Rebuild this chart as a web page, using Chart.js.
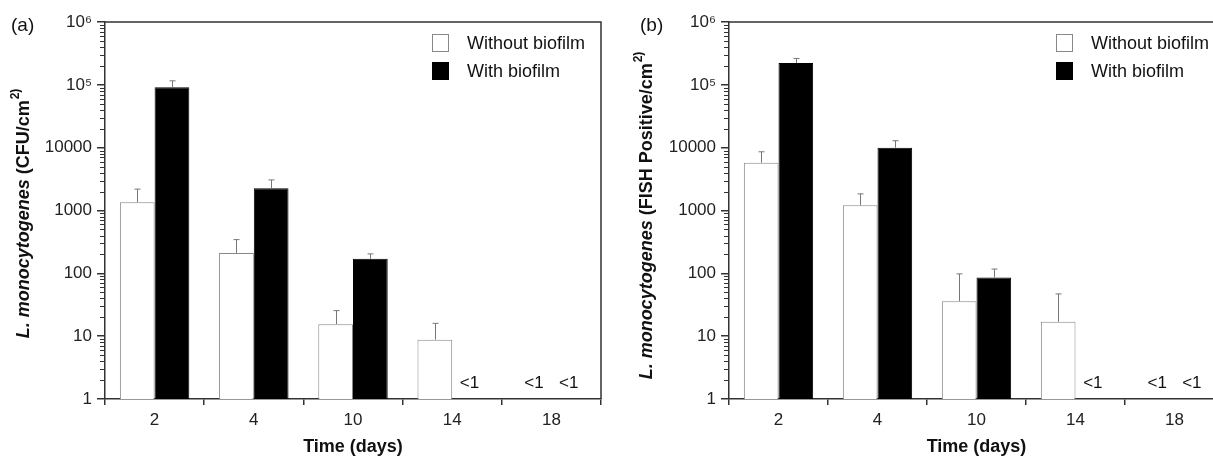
<!DOCTYPE html>
<html>
<head>
<meta charset="utf-8">
<script src="https://cdn.jsdelivr.net/npm/chart.js@4.4.0/dist/chart.umd.min.js"></script>
<style>
html, body { margin: 0; padding: 0; background: #fff; overflow: hidden; }
#wrap { position: relative; width: 1213px; height: 460px; overflow: hidden; }
#chartA { position: absolute; left: 0; top: 0; }
#chartB { position: absolute; left: 624px; top: 0; }
</style>
</head>
<body>
<div id="wrap">
  <canvas id="chartA" width="624" height="460"></canvas>
  <canvas id="chartB" width="606" height="460"></canvas>
</div>
<script>
var days = ['2', '4', '10', '14', '18'];
var yTickValues = [1, 10, 100, 1000, 10000, 100000, 1000000];
var yTickLabels = ['1', '10', '100', '1000', '10000', '10⁵', '10⁶'];
var seriesNames = ['Without biofilm', 'With biofilm'];

// (a) culture counts, CFU/cm2 (mean and + error)
var cfuWithout = [1350, 211, 15.5, 8.8, null];
var cfuWithoutErr = [840, 133, 10, 7.2, null];
var cfuWith = [91900, 2265, 170, null, null];
var cfuWithErr = [23900, 805, 34, null, null];
var cfuWithoutBelow = [false, false, false, false, true];
var cfuWithBelow = [false, false, false, true, true];

// (b) FISH positive cells/cm2
var fishWithout = [5750, 1210, 36, 17, null];
var fishWithoutErr = [2850, 630, 62, 30, null];
var fishWith = [222000, 10000, 86, null, null];
var fishWithErr = [41000, 2900, 31, null, null];
var fishWithoutBelow = [false, false, false, false, true];
var fishWithBelow = [false, false, false, true, true];

Chart.defaults.font.family = "'Liberation Sans', Arial, sans-serif";
Chart.defaults.color = '#222';

var axisColor = '#333';

// frame, minor ticks, error bars, "<1" marks, legend, titles
var decor = {
    id: 'decor',
    afterDatasetsDraw: function(chart, args, opts) {
        var ctx = chart.ctx;
        var area = chart.chartArea;
        var y = chart.scales.y;

        ctx.save();
        // top and right of the frame
        ctx.strokeStyle = axisColor;
        ctx.lineWidth = 1.5;
        ctx.beginPath();
        ctx.moveTo(area.left, area.top);
        ctx.lineTo(area.right, area.top);
        ctx.lineTo(area.right, area.bottom);
        ctx.stroke();

        // minor ticks of the log axis
        ctx.lineWidth = 1;
        ctx.beginPath();
        for (var k = 0; k < 6; k++) {
            for (var m = 2; m <= 9; m++) {
                var py = Math.round(y.getPixelForValue(m * Math.pow(10, k))) + 0.5;
                ctx.moveTo(area.left - 5, py);
                ctx.lineTo(area.left, py);
            }
        }
        ctx.stroke();

        // error bars (upper only)
        ctx.strokeStyle = '#777';
        ctx.lineWidth = 1;
        chart.data.datasets.forEach(function(ds, i) {
            var meta = chart.getDatasetMeta(i);
            ds.data.forEach(function(v, j) {
                if (v === null || ds.errors[j] === null) return;
                var bar = meta.data[j];
                var x = Math.round(bar.x) + 0.5;
                var top = y.getPixelForValue(v + ds.errors[j]);
                ctx.beginPath();
                ctx.moveTo(x, bar.y);
                ctx.lineTo(x, top);
                ctx.moveTo(x - 3, top);
                ctx.lineTo(x + 3, top);
                ctx.stroke();
            });
        });

        // below detection limit
        ctx.fillStyle = '#111';
        ctx.font = "17px 'Liberation Sans', Arial, sans-serif";
        ctx.textAlign = 'center';
        ctx.textBaseline = 'middle';
        chart.data.datasets.forEach(function(ds, i) {
            var meta = chart.getDatasetMeta(i);
            ds.below.forEach(function(b, j) {
                if (!b) return;
                ctx.fillText('<1', meta.data[j].x, area.bottom - 16);
            });
        });

        // legend
        ctx.textAlign = 'left';
        ctx.font = "18px 'Liberation Sans', Arial, sans-serif";
        chart.data.datasets.forEach(function(ds, i) {
            var bx = area.left + 327, by = 34 + i * 28;
            ctx.fillStyle = ds.backgroundColor;
            ctx.fillRect(bx, by, 17, 18);
            ctx.strokeStyle = ds.borderColor;
            ctx.strokeRect(bx + 0.5, by + 0.5, 16, 17);
            ctx.fillStyle = '#111';
            ctx.fillText(ds.label, bx + 35, by + 10);
        });

        // panel letter
        ctx.font = "19px 'Liberation Sans', Arial, sans-serif";
        ctx.fillText(opts.letter, opts.letterX, 26);

        // y axis title, italic species name
        ctx.translate(opts.titleX, opts.titleY);
        ctx.rotate(-Math.PI / 2);
        var f1 = "italic bold 18px 'Liberation Sans', Arial, sans-serif";
        var f2 = "bold 18px 'Liberation Sans', Arial, sans-serif";
        var f3 = "bold 12px 'Liberation Sans', Arial, sans-serif";
        ctx.font = f1; var w1 = ctx.measureText(opts.species).width;
        ctx.font = f2; var w2 = ctx.measureText(opts.unit).width;
        ctx.font = f3; var w3 = ctx.measureText(opts.sup).width;
        var sx = -(w1 + w2 + w3) / 2;
        ctx.fillStyle = '#111';
        ctx.font = f1; ctx.fillText(opts.species, sx, 0);
        ctx.font = f2; ctx.fillText(opts.unit, sx + w1, 0);
        ctx.font = f3; ctx.fillText(opts.sup, sx + w1 + w2 + 1, -8);
        ctx.restore();
    }
};

function makeChart(id, without, withoutErr, withoutBelow, withB, withErr, withBelow, padRight, deco) {
    var ctx = document.getElementById(id).getContext('2d');
    return new Chart(ctx, {
        type: 'bar',
        data: {
            labels: days,
            datasets: [{
                label: seriesNames[0],
                data: without,
                errors: withoutErr,
                below: withoutBelow,
                backgroundColor: '#ffffff',
                borderColor: '#888',
                borderWidth: 1
            }, {
                label: seriesNames[1],
                data: withB,
                errors: withErr,
                below: withBelow,
                backgroundColor: '#000000',
                borderColor: '#000000',
                borderWidth: 1
            }]
        },
        options: {
            responsive: false,
            animation: false,
            layout: { padding: { top: 22, right: padRight, left: 0, bottom: 0 } },
            datasets: { bar: { barPercentage: 1, categoryPercentage: 0.7 } },
            plugins: {
                legend: { display: false },
                tooltip: { enabled: false },
                decor: deco
            },
            scales: {
                x: {
                    grid: { drawOnChartArea: false, tickLength: 6, color: axisColor, lineWidth: 1.5 },
                    border: { color: axisColor, width: 1.5 },
                    ticks: { font: { size: 17 }, color: '#222', padding: 5 },
                    title: {
                        display: true,
                        text: 'Time (days)',
                        font: { size: 18, weight: 'bold' },
                        color: '#111',
                        padding: { top: 0, bottom: 2 }
                    },
                    afterFit: function(scale) { scale.height = 61; }
                },
                y: {
                    type: 'logarithmic',
                    min: 1,
                    max: 1000000,
                    grid: { drawOnChartArea: false, tickLength: 8, color: axisColor, lineWidth: 1.5 },
                    border: { color: axisColor, width: 1.5 },
                    ticks: {
                        font: { size: 17 },
                        color: '#222',
                        padding: 5,
                        autoSkip: false,
                        callback: function(value) {
                            var i = yTickValues.indexOf(value);
                            return i >= 0 ? yTickLabels[i] : '';
                        }
                    },
                    afterBuildTicks: function(scale) {
                        scale.ticks = yTickValues.map(function(v) { return { value: v, major: true }; });
                    },
                    afterFit: function(scale) { scale.width = 105; }
                }
            }
        },
        plugins: [decor]
    });
}

makeChart('chartA', cfuWithout, cfuWithoutErr, cfuWithoutBelow, cfuWith, cfuWithErr, cfuWithBelow, 23, {
    letter: '(a)', letterX: 11,
    species: 'L. monocytogenes', unit: ' (CFU/cm', sup: '2)',
    titleX: 24, titleY: 214
});

makeChart('chartB', fishWithout, fishWithoutErr, fishWithoutBelow, fishWith, fishWithErr, fishWithBelow, 6, {
    letter: '(b)', letterX: 16,
    species: 'L. monocytogenes', unit: ' (FISH Positive/cm', sup: '2)',
    titleX: 23, titleY: 216
});
</script>
</body>
</html>
